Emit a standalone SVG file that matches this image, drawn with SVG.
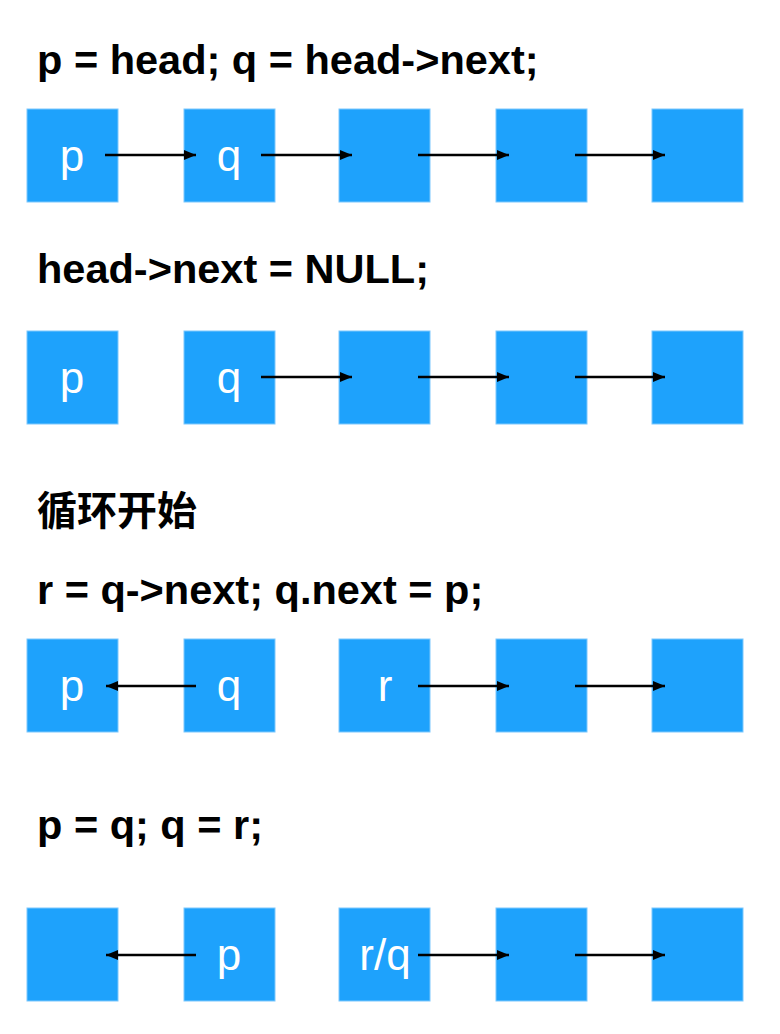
<svg xmlns="http://www.w3.org/2000/svg" width="780" height="1034" viewBox="0 0 780 1034">
<defs>
<marker id="ah" viewBox="0 0 12 10" refX="12" refY="5" markerWidth="12" markerHeight="10" markerUnits="userSpaceOnUse" orient="auto">
<path d="M0,0 L12,5 L0,10 Z" fill="#000"/>
</marker>
</defs>
<style>
.box{fill:#1ea2fc;stroke:#7cc8fd;stroke-width:1}
.lbl{font-family:"Liberation Sans",Arial,sans-serif;font-size:44px;fill:#fff;text-anchor:middle}
.ttl{font-family:"Liberation Sans","Noto Sans CJK SC",sans-serif;font-size:41.5px;font-weight:bold;fill:#000}
.cjk{font-size:40px}
.ar{stroke:#000;stroke-width:2.5;fill:none;marker-end:url(#ah)}
</style>
<rect width="780" height="1034" fill="#fff"/>
<g id="titles">
<text class="ttl" x="37" y="74">p = head; q = head-&gt;next;</text>
<text class="ttl" x="37" y="283">head-&gt;next = NULL;</text>
<text class="ttl cjk" x="37" y="525">循环开始</text>
<text class="ttl" x="37" y="604">r = q-&gt;next; q.next = p;</text>
<text class="ttl" x="37" y="839">p = q; q = r;</text>
</g>
<g id="row1">
<g id="r1n1"><rect class="box" x="27" y="109" width="91" height="93"/><text class="lbl" x="72" y="171">p</text></g>
<g id="r1n2"><rect class="box" x="184" y="109" width="91" height="93"/><text class="lbl" x="229" y="171">q</text></g>
<g id="r1n3"><rect class="box" x="339" y="109" width="91" height="93"/></g>
<g id="r1n4"><rect class="box" x="496" y="109" width="91" height="93"/></g>
<g id="r1n5"><rect class="box" x="652" y="109" width="91" height="93"/></g>
</g>
<g id="row2">
<g id="r2n1"><rect class="box" x="27" y="331" width="91" height="93"/><text class="lbl" x="72" y="393">p</text></g>
<g id="r2n2"><rect class="box" x="184" y="331" width="91" height="93"/><text class="lbl" x="229" y="393">q</text></g>
<g id="r2n3"><rect class="box" x="339" y="331" width="91" height="93"/></g>
<g id="r2n4"><rect class="box" x="496" y="331" width="91" height="93"/></g>
<g id="r2n5"><rect class="box" x="652" y="331" width="91" height="93"/></g>
</g>
<g id="row3">
<g id="r3n1"><rect class="box" x="27" y="639" width="91" height="93"/><text class="lbl" x="72" y="701">p</text></g>
<g id="r3n2"><rect class="box" x="184" y="639" width="91" height="93"/><text class="lbl" x="229" y="701">q</text></g>
<g id="r3n3"><rect class="box" x="339" y="639" width="91" height="93"/><text class="lbl" x="385" y="701">r</text></g>
<g id="r3n4"><rect class="box" x="496" y="639" width="91" height="93"/></g>
<g id="r3n5"><rect class="box" x="652" y="639" width="91" height="93"/></g>
</g>
<g id="row4">
<g id="r4n1"><rect class="box" x="27" y="908" width="91" height="93"/></g>
<g id="r4n2"><rect class="box" x="184" y="908" width="91" height="93"/><text class="lbl" x="229" y="970">p</text></g>
<g id="r4n3"><rect class="box" x="339" y="908" width="91" height="93"/><text class="lbl" x="385" y="970">r/q</text></g>
<g id="r4n4"><rect class="box" x="496" y="908" width="91" height="93"/></g>
<g id="r4n5"><rect class="box" x="652" y="908" width="91" height="93"/></g>
</g>
<g id="connectors">
<line class="ar" x1="105" y1="155" x2="196" y2="155"/>
<line class="ar" x1="261" y1="155" x2="352" y2="155"/>
<line class="ar" x1="418" y1="155" x2="509" y2="155"/>
<line class="ar" x1="575" y1="155" x2="665" y2="155"/>
<line class="ar" x1="261" y1="377" x2="352" y2="377"/>
<line class="ar" x1="418" y1="377" x2="509" y2="377"/>
<line class="ar" x1="575" y1="377" x2="665" y2="377"/>
<line class="ar" x1="196" y1="686" x2="106" y2="686"/>
<line class="ar" x1="418" y1="686" x2="509" y2="686"/>
<line class="ar" x1="575" y1="686" x2="665" y2="686"/>
<line class="ar" x1="196" y1="955" x2="106" y2="955"/>
<line class="ar" x1="418" y1="955" x2="509" y2="955"/>
<line class="ar" x1="575" y1="955" x2="665" y2="955"/>
</g>
</svg>
